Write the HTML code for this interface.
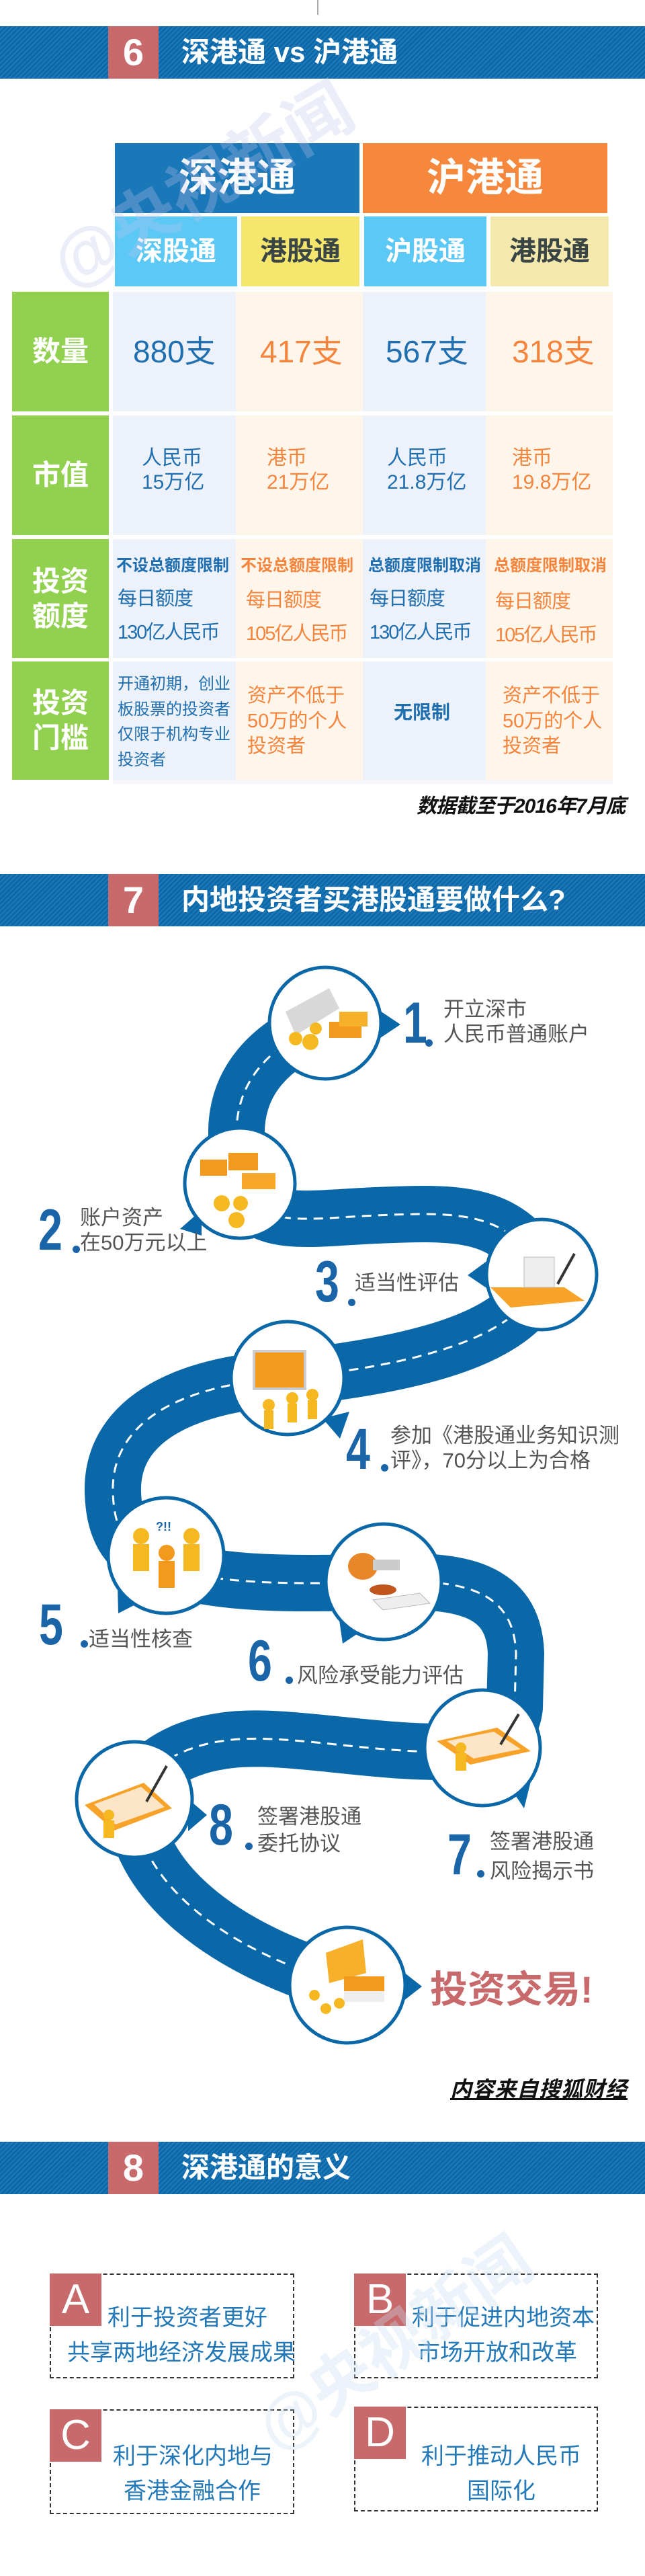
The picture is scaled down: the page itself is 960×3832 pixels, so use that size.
<!DOCTYPE html>
<html><head><meta charset="utf-8"><style>
*{margin:0;padding:0;box-sizing:border-box}
body{width:960px;height:3832px;position:relative;background:#fff;font-family:"Liberation Sans","Noto Sans CJK SC",sans-serif;overflow:hidden}
.a{position:absolute}
.ban{position:absolute;left:0;width:960px;height:78px;background:repeating-linear-gradient(135deg,#0b68aa 0 3px,#2279b6 3px 5px)}
.ban .n{position:absolute;left:161px;top:0;width:75px;height:78px;background:#c8696b;color:#fff;font-weight:bold;font-size:56px;text-align:center;line-height:78px}
.ban .t{position:absolute;left:270px;top:0;height:78px;line-height:78px;color:#fff;font-weight:bold;font-size:42px;white-space:nowrap}
.cell{position:absolute;white-space:nowrap}
.bl{color:#1f6fb0}.or{color:#f5843c}
.g{position:absolute;left:18px;width:144px;background:#92d050;color:#fff;font-weight:bold;font-size:42px;display:flex;align-items:center;justify-content:center;text-align:center;line-height:52px}
.cb{background:#edf2fa}.co{background:#fef6ea}
.lab{position:absolute;color:#555;font-size:31px;line-height:37px;white-space:nowrap}
.num{position:absolute;color:#1a64a8;font-weight:bold;font-size:86px;line-height:72px;transform:scaleX(0.75);transform-origin:left top}
.box{position:absolute;border:2px dashed #333}
.box .L{position:absolute;left:-2px;top:-2px;width:77px;height:78px;background:#c8696b;color:#fff;font-size:62px;text-align:center;line-height:78px}
.box .tx{position:absolute;color:#2379b8;font-size:34px;white-space:nowrap}
.wm{position:absolute;font-weight:bold;white-space:nowrap;transform-origin:left top;z-index:5;pointer-events:none}
</style></head><body>
<div class="a" style="left:472px;top:0;width:2px;height:22px;background:#aaa"></div>

<div class="ban" style="top:39px"><div class="n">6</div><div class="t">深港通 vs 沪港通</div></div>

<div class="wm" style="left:45px;top:330px;font-size:100px;color:rgba(190,195,235,0.3);transform:rotate(-30deg)">@央视新闻</div>

<div class="a" style="left:171px;top:213px;width:364px;height:104px;background:#1a78b8;color:#fff;font-size:58px;font-weight:bold;text-align:center;line-height:104px">深港通</div>
<div class="a" style="left:540px;top:213px;width:364px;height:104px;background:#f5883c;color:#fff;font-size:58px;font-weight:bold;text-align:center;line-height:104px">沪港通</div>
<div class="a" style="left:171px;top:322px;width:182px;height:104px;background:#5bc8f5;color:#fff;font-size:40px;font-weight:bold;text-align:center;line-height:104px">深股通</div>
<div class="a" style="left:359px;top:322px;width:176px;height:104px;background:#f5e76e;color:#3a4646;font-size:40px;font-weight:bold;text-align:center;line-height:104px">港股通</div>
<div class="a" style="left:542px;top:322px;width:182px;height:104px;background:#5bc8f5;color:#fff;font-size:40px;font-weight:bold;text-align:center;line-height:104px">沪股通</div>
<div class="a" style="left:730px;top:322px;width:176px;height:104px;background:#f4e8ac;color:#3a4646;font-size:40px;font-weight:bold;text-align:center;line-height:104px">港股通</div>

<div class="g" style="top:434px;height:178px">数量</div>
<div class="g" style="top:618px;height:178px">市值</div>
<div class="g" style="top:802px;height:177px">投资<br>额度</div>
<div class="g" style="top:984px;height:176px">投资<br>门槛</div>

<div class="a cb" style="left:168px;top:434px;width:183px;height:178px"></div>
<div class="a co" style="left:351px;top:434px;width:189px;height:178px"></div>
<div class="a cb" style="left:540px;top:434px;width:183px;height:178px"></div>
<div class="a co" style="left:723px;top:434px;width:189px;height:178px"></div>
<div class="a cb" style="left:168px;top:618px;width:183px;height:178px"></div>
<div class="a co" style="left:351px;top:618px;width:189px;height:178px"></div>
<div class="a cb" style="left:540px;top:618px;width:183px;height:178px"></div>
<div class="a co" style="left:723px;top:618px;width:189px;height:178px"></div>
<div class="a cb" style="left:168px;top:802px;width:183px;height:177px"></div>
<div class="a co" style="left:351px;top:802px;width:189px;height:177px"></div>
<div class="a cb" style="left:540px;top:802px;width:183px;height:177px"></div>
<div class="a co" style="left:723px;top:802px;width:189px;height:177px"></div>
<div class="a cb" style="left:168px;top:984px;width:183px;height:176px"></div>
<div class="a co" style="left:351px;top:984px;width:189px;height:176px"></div>
<div class="a cb" style="left:540px;top:984px;width:183px;height:176px"></div>
<div class="a co" style="left:723px;top:984px;width:189px;height:176px"></div>
<div class="a" style="left:168px;top:1160px;width:744px;height:6px;background:#f5f7fb"></div>

<div class="cell bl" style="left:198px;top:495px;font-size:46px;line-height:56px">880支</div>
<div class="cell or" style="left:387px;top:495px;font-size:46px;line-height:56px">417支</div>
<div class="cell bl" style="left:574px;top:495px;font-size:46px;line-height:56px">567支</div>
<div class="cell or" style="left:762px;top:495px;font-size:46px;line-height:56px">318支</div>

<div class="cell bl" style="left:211px;top:664px;font-size:30px;line-height:36px">人民币<br>15万亿</div>
<div class="cell or" style="left:397px;top:664px;font-size:30px;line-height:36px">港币<br>21万亿</div>
<div class="cell bl" style="left:576px;top:664px;font-size:30px;line-height:36px">人民币<br>21.8万亿</div>
<div class="cell or" style="left:762px;top:664px;font-size:30px;line-height:36px">港币<br>19.8万亿</div>

<div class="cell bl" style="left:173px;top:827px;font-size:24px;line-height:30px;font-weight:bold">不设总额度限制</div>
<div class="cell or" style="left:358px;top:827px;font-size:24px;line-height:30px;font-weight:bold">不设总额度限制</div>
<div class="cell bl" style="left:548px;top:827px;font-size:24px;line-height:30px;font-weight:bold">总额度限制取消</div>
<div class="cell or" style="left:735px;top:827px;font-size:24px;line-height:30px;font-weight:bold">总额度限制取消</div>
<div class="cell bl" style="left:175px;top:873px;font-size:29px;line-height:36px;letter-spacing:-1px">每日额度</div>
<div class="cell or" style="left:366px;top:875px;font-size:29px;line-height:36px;letter-spacing:-1px">每日额度</div>
<div class="cell bl" style="left:550px;top:873px;font-size:29px;line-height:36px;letter-spacing:-1px">每日额度</div>
<div class="cell or" style="left:737px;top:877px;font-size:29px;line-height:36px;letter-spacing:-1px">每日额度</div>
<div class="cell bl" style="left:175px;top:923px;font-size:29px;line-height:36px;letter-spacing:-2px">130亿人民币</div>
<div class="cell or" style="left:366px;top:925px;font-size:29px;line-height:36px;letter-spacing:-2px">105亿人民币</div>
<div class="cell bl" style="left:550px;top:923px;font-size:29px;line-height:36px;letter-spacing:-2px">130亿人民币</div>
<div class="cell or" style="left:737px;top:927px;font-size:29px;line-height:36px;letter-spacing:-2px">105亿人民币</div>

<div class="cell bl" style="left:175px;top:999px;font-size:24px;line-height:37.5px">开通初期，创业<br>板股票的投资者<br>仅限于机构专业<br>投资者</div>
<div class="cell or" style="left:368px;top:1017px;font-size:29px;line-height:37.5px">资产不低于<br>50万的个人<br>投资者</div>
<div class="cell bl" style="left:586px;top:1042px;font-size:28px;line-height:36px;font-weight:bold">无限制</div>
<div class="cell or" style="left:748px;top:1017px;font-size:29px;line-height:37.5px">资产不低于<br>50万的个人<br>投资者</div>

<div class="cell" style="left:620px;top:1182px;font-size:30px;line-height:36px;font-weight:bold;font-style:italic;color:#111;letter-spacing:-1px">数据截至于2016年7月底</div>

<div class="ban" style="top:1300px"><div class="n">7</div><div class="t">内地投资者买港股通要做什么?</div></div>

<svg class="a" style="left:0;top:1379px" width="960" height="1800" viewBox="0 1379 960 1800">
<path d="M484 1522 C400 1555 350 1610 352 1690 L357 1760 C380 1830 460 1812 560 1808 C680 1803 760 1800 806 1896 C780 1990 620 2030 428 2050 C260 2060 165 2120 168 2220 C170 2290 200 2314 247 2330 C330 2360 460 2356 571 2353 C680 2350 765 2360 768 2460 L766 2540 C760 2590 718 2600 690 2605 C560 2612 420 2575 330 2590 C260 2600 200 2640 200 2690 C210 2800 330 2900 517 2953" fill="none" stroke="#0a68a8" stroke-width="84"/>
<path d="M484 1522 C400 1555 350 1610 352 1690 L357 1760 C380 1830 460 1812 560 1808 C680 1803 760 1800 806 1896 C780 1990 620 2030 428 2050 C260 2060 165 2120 168 2220 C170 2290 200 2314 247 2330 C330 2360 460 2356 571 2353 C680 2350 765 2360 768 2460 L766 2540 C760 2590 718 2600 690 2605 C560 2612 420 2575 330 2590 C260 2600 200 2640 200 2690 C210 2800 330 2900 517 2953" fill="none" stroke="#fff" stroke-width="3" stroke-dasharray="14 10"/>
<g fill="#0a68a8">
<polygon points="560,1500 596,1524 560,1548"/>
<polygon points="300,1800 268,1828 300,1838"/>
<polygon points="730,1872 696,1897 730,1920"/>
<polygon points="480,2110 506,2140 520,2100"/>
<polygon points="175,2360 176,2400 215,2380"/>
<polygon points="505,2410 510,2445 540,2425"/>
<polygon points="760,2660 780,2690 790,2650"/>
<polygon points="280,2676 308,2700 280,2724"/>
<polygon points="596,2930 628,2955 596,2980"/>
</g>
<g fill="#fff" stroke="#0a68a8" stroke-width="5">
<circle cx="484" cy="1522" r="83"/>
<circle cx="357" cy="1760" r="82"/>
<circle cx="806" cy="1896" r="82"/>
<circle cx="428" cy="2050" r="84"/>
<circle cx="247" cy="2314" r="86"/>
<circle cx="571" cy="2353" r="86"/>
<circle cx="718" cy="2600" r="86"/>
<circle cx="200" cy="2677" r="86"/>
<circle cx="517" cy="2953" r="86"/>
</g>
<g>
<polygon points="425,1505 490,1470 505,1500 440,1540" fill="#d8d8d8"/>
<rect x="490" y="1520" width="48" height="24" fill="#f39a1e"/><rect x="505" y="1505" width="42" height="22" fill="#f7b02a"/>
<circle cx="440" cy="1545" r="10" fill="#f5b820"/><circle cx="462" cy="1550" r="12" fill="#f5b820"/><circle cx="470" cy="1530" r="9" fill="#f5b820"/>
<rect x="298" y="1725" width="40" height="24" fill="#f39a1e"/><rect x="340" y="1715" width="44" height="26" fill="#f39a1e"/><rect x="360" y="1745" width="50" height="24" fill="#f7a82a"/>
<circle cx="330" cy="1790" r="12" fill="#f5b820"/><circle cx="358" cy="1790" r="11" fill="#f5b820"/><circle cx="352" cy="1815" r="12" fill="#f5b820"/>
<polygon points="730,1915 840,1915 870,1935 760,1945" fill="#f7a32a"/><rect x="780" y="1870" width="45" height="45" fill="#eee" stroke="#bbb"/><line x1="830" y1="1910" x2="855" y2="1865" stroke="#333" stroke-width="4"/>
<rect x="378" y="2010" width="76" height="56" fill="#f39a1e" stroke="#ccc" stroke-width="4"/><circle cx="400" cy="2090" r="9" fill="#f5b820"/><rect x="393" y="2098" width="14" height="28" fill="#f5b820"/><circle cx="435" cy="2080" r="9" fill="#f5b820"/><rect x="428" y="2088" width="14" height="28" fill="#f5b820"/><circle cx="465" cy="2075" r="9" fill="#f5b820"/><rect x="458" y="2083" width="14" height="28" fill="#f5b820"/>
<circle cx="210" cy="2285" r="12" fill="#f5b820"/><rect x="198" y="2297" width="24" height="40" fill="#f5b820"/><circle cx="285" cy="2285" r="12" fill="#f5b820"/><rect x="273" y="2297" width="24" height="40" fill="#f5b820"/><circle cx="248" cy="2310" r="12" fill="#f39a1e"/><rect x="236" y="2322" width="24" height="40" fill="#f39a1e"/>
<text x="232" y="2277" font-size="18" font-weight="bold" fill="#1a64a8">?!!</text>
<ellipse cx="540" cy="2330" rx="22" ry="20" fill="#e8862a"/><rect x="555" y="2320" width="40" height="16" fill="#ccc"/><ellipse cx="570" cy="2365" rx="20" ry="8" fill="#c0561e"/><polygon points="555,2380 625,2370 640,2385 570,2395" fill="#eee" stroke="#bbb"/>
<polygon points="650,2590 740,2570 790,2605 700,2625" fill="#f7a32a"/><polygon points="665,2590 735,2576 775,2602 705,2616" fill="#fde6c8"/><circle cx="686" cy="2600" r="8" fill="#f5b820"/><rect x="678" y="2608" width="16" height="26" fill="#f5b820"/><line x1="745" y1="2595" x2="772" y2="2550" stroke="#333" stroke-width="4"/>
<polygon points="126,2685 214,2652 256,2690 170,2723" fill="#f7a32a"/><polygon points="140,2684 210,2658 245,2688 172,2714" fill="#fde6c8"/><circle cx="162" cy="2700" r="8" fill="#f5b820"/><rect x="154" y="2708" width="16" height="26" fill="#f5b820"/><line x1="218" y1="2680" x2="248" y2="2627" stroke="#333" stroke-width="4"/>
<polygon points="485,2905 540,2885 545,2935 490,2950" fill="#f7b02a"/><rect x="512" y="2940" width="60" height="22" fill="#f39a1e"/><rect x="512" y="2962" width="60" height="16" fill="#eee"/><circle cx="468" cy="2968" r="8" fill="#f5b820"/><circle cx="485" cy="2988" r="8" fill="#f5b820"/><circle cx="505" cy="2980" r="8" fill="#f5b820"/>
</g>
</svg>

<div class="num" style="left:600px;top:1486px">1</div>
<div class="a" style="left:633px;top:1546px;width:11px;height:11px;border-radius:50%;background:#1a64a8"></div>
<div class="lab" style="left:660px;top:1483px">开立深市<br>人民币普通账户</div>
<div class="num" style="left:57px;top:1794px">2</div>
<div class="a" style="left:108px;top:1853px;width:11px;height:11px;border-radius:50%;background:#1a64a8"></div>
<div class="lab" style="left:119px;top:1793px">账户资产<br>在50万元以上</div>
<div class="num" style="left:469px;top:1871px">3</div>
<div class="a" style="left:518px;top:1932px;width:11px;height:11px;border-radius:50%;background:#1a64a8"></div>
<div class="lab" style="left:528px;top:1890px">适当性评估</div>
<div class="num" style="left:515px;top:2120px">4</div>
<div class="a" style="left:567px;top:2178px;width:11px;height:11px;border-radius:50%;background:#1a64a8"></div>
<div class="lab" style="left:581px;top:2117px">参加《港股通业务知识测<br>评》，70分以上为合格</div>
<div class="num" style="left:58px;top:2381px">5</div>
<div class="a" style="left:120px;top:2440px;width:11px;height:11px;border-radius:50%;background:#1a64a8"></div>
<div class="lab" style="left:132px;top:2420px">适当性核查</div>
<div class="num" style="left:369px;top:2435px">6</div>
<div class="a" style="left:425px;top:2494px;width:11px;height:11px;border-radius:50%;background:#1a64a8"></div>
<div class="lab" style="left:442px;top:2474px">风险承受能力评估</div>
<div class="num" style="left:666px;top:2723px">7</div>
<div class="a" style="left:710px;top:2782px;width:11px;height:11px;border-radius:50%;background:#1a64a8"></div>
<div class="lab" style="left:729px;top:2718px;line-height:44px">签署港股通<br>风险揭示书</div>
<div class="num" style="left:311px;top:2679px">8</div>
<div class="a" style="left:365px;top:2741px;width:11px;height:11px;border-radius:50%;background:#1a64a8"></div>
<div class="lab" style="left:383px;top:2683px;line-height:40px">签署港股通<br>委托协议</div>
<div class="a" style="left:640px;top:2926px;font-size:56px;line-height:68px;font-weight:bold;color:#c8696b;white-space:nowrap">投资交易!</div>
<div class="a" style="left:670px;top:3090px;font-size:32px;line-height:36px;font-weight:bold;font-style:italic;color:#111;text-decoration:underline;white-space:nowrap;letter-spacing:1px">内容来自搜狐财经</div>

<div class="ban" style="top:3186px"><div class="n">8</div><div class="t">深港通的意义</div></div>

<div class="wm" style="left:350px;top:3560px;font-size:95px;color:rgba(200,220,240,0.35);transform:rotate(-35deg)">@央视新闻</div>

<div class="box" style="left:74px;top:3382px;width:364px;height:156px"><div class="L">A</div><div class="tx" style="left:84px;top:36px">利于投资者更好</div><div class="tx" style="left:24px;top:88px">共享两地经济发展成果</div></div>
<div class="box" style="left:527px;top:3382px;width:363px;height:156px"><div class="L">B</div><div class="tx" style="left:84px;top:36px">利于促进内地资本</div><div class="tx" style="left:92px;top:88px">市场开放和改革</div></div>
<div class="box" style="left:74px;top:3584px;width:364px;height:156px"><div class="L">C</div><div class="tx" style="left:92px;top:40px">利于深化内地与</div><div class="tx" style="left:108px;top:92px">香港金融合作</div></div>
<div class="box" style="left:527px;top:3580px;width:363px;height:156px"><div class="L">D</div><div class="tx" style="left:98px;top:44px">利于推动人民币</div><div class="tx" style="left:166px;top:96px">国际化</div></div>
</body></html>
